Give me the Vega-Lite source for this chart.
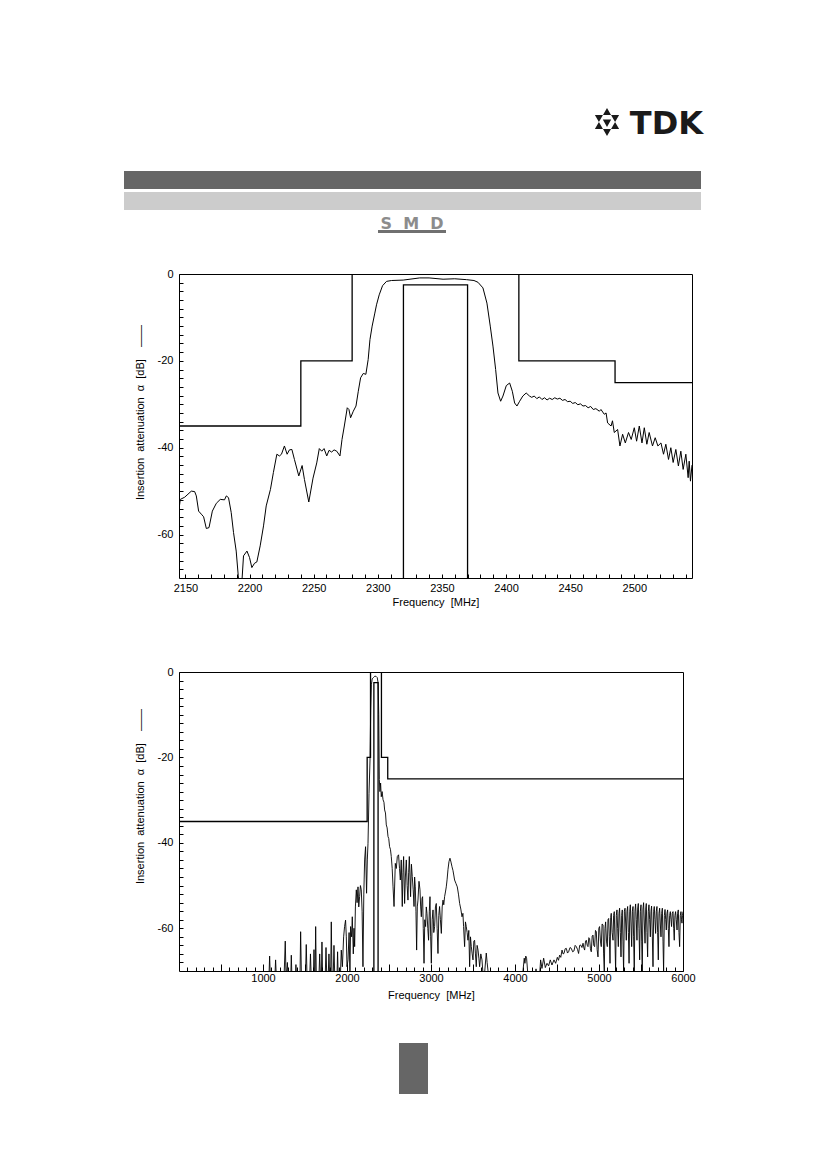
{
  "$schema": "https://vega.github.io/schema/vega-lite/v6.json",
  "background": "white",
  "padding": {"left": 124, "top": 100, "right": 5, "bottom": 5},
  "bounds": "flush",
  "spacing": 94,
  "datasets": {
    "mask": [
      {"seg": "L", "i": 0, "f": 0, "a": -35}, {"seg": "L", "i": 1, "f": 2240, "a": -35},
      {"seg": "L", "i": 2, "f": 2240, "a": -20}, {"seg": "L", "i": 3, "f": 2280, "a": -20},
      {"seg": "L", "i": 4, "f": 2280, "a": 0},
      {"seg": "P", "i": 0, "f": 2320, "a": -70}, {"seg": "P", "i": 1, "f": 2320, "a": -2.5},
      {"seg": "P", "i": 2, "f": 2370, "a": -2.5}, {"seg": "P", "i": 3, "f": 2370, "a": -70},
      {"seg": "R", "i": 0, "f": 2410, "a": 0}, {"seg": "R", "i": 1, "f": 2410, "a": -20},
      {"seg": "R", "i": 2, "f": 2485, "a": -20}, {"seg": "R", "i": 3, "f": 2485, "a": -25},
      {"seg": "R", "i": 4, "f": 6000, "a": -25}
    ],
    "narrow": [
      {"f": 2145, "a": -54.2}, {"f": 2146, "a": -51.9}, {"f": 2149.4, "a": -51.4}, {"f": 2152, "a": -50.7},
      {"f": 2154.6, "a": -50}, {"f": 2157.2, "a": -50.1}, {"f": 2158.5, "a": -51.1}, {"f": 2160.3, "a": -54.6},
      {"f": 2162.4, "a": -55.3}, {"f": 2164.2, "a": -55.9}, {"f": 2166.3, "a": -58.6}, {"f": 2168.4, "a": -58.4},
      {"f": 2171, "a": -54.6}, {"f": 2174.1, "a": -52.8}, {"f": 2177.2, "a": -51.9}, {"f": 2180.5, "a": -52},
      {"f": 2181.9, "a": -51.1}, {"f": 2183.6, "a": -51.5}, {"f": 2185.7, "a": -54.9}, {"f": 2187.5, "a": -59.5},
      {"f": 2189.6, "a": -63.8}, {"f": 2191.2, "a": -69.5}, {"f": 2192.2, "a": -73}, {"f": 2193.6, "a": -73},
      {"f": 2195.3, "a": -64.9}, {"f": 2198, "a": -63.8}, {"f": 2200, "a": -65.3}, {"f": 2201.8, "a": -67.6},
      {"f": 2203.9, "a": -66.6}, {"f": 2205.7, "a": -66.3}, {"f": 2208.3, "a": -62.6}, {"f": 2210.9, "a": -58},
      {"f": 2213, "a": -53.4}, {"f": 2216.3, "a": -49.6}, {"f": 2218.6, "a": -45.7}, {"f": 2221.3, "a": -41.5},
      {"f": 2223.3, "a": -41.9}, {"f": 2224.9, "a": -41.5}, {"f": 2227.2, "a": -39.6}, {"f": 2229.3, "a": -41.5},
      {"f": 2231.1, "a": -40.5}, {"f": 2233, "a": -40.4}, {"f": 2235, "a": -42.7}, {"f": 2238.4, "a": -46.5},
      {"f": 2241, "a": -44.1}, {"f": 2242.8, "a": -47.3}, {"f": 2246.2, "a": -52.5}, {"f": 2249.5, "a": -47},
      {"f": 2252.4, "a": -43.5}, {"f": 2254.4, "a": -40.2}, {"f": 2256.3, "a": -40.8}, {"f": 2258.1, "a": -40.2},
      {"f": 2260.2, "a": -41.9}, {"f": 2262, "a": -40.6}, {"f": 2264, "a": -41}, {"f": 2265.9, "a": -40.5},
      {"f": 2268, "a": -40.8}, {"f": 2270.5, "a": -41.9}, {"f": 2272.1, "a": -38.1}, {"f": 2273.9, "a": -35},
      {"f": 2276.2, "a": -30.8}, {"f": 2277.5, "a": -31.2}, {"f": 2278.8, "a": -33.1}, {"f": 2280.9, "a": -31.6},
      {"f": 2283, "a": -30.4}, {"f": 2284.8, "a": -27}, {"f": 2286.6, "a": -23.9}, {"f": 2288.7, "a": -22.9},
      {"f": 2290.7, "a": -23.1}, {"f": 2292.5, "a": -19.7}, {"f": 2293.9, "a": -15.1}, {"f": 2295.6, "a": -12},
      {"f": 2297.7, "a": -9}, {"f": 2299, "a": -7.1}, {"f": 2301.1, "a": -4.8}, {"f": 2303.7, "a": -2.7},
      {"f": 2306.8, "a": -1.7}, {"f": 2310.7, "a": -1.5}, {"f": 2319.8, "a": -1.4}, {"f": 2332.7, "a": -0.9},
      {"f": 2340, "a": -0.9}, {"f": 2350.9, "a": -1.2}, {"f": 2360, "a": -1.1}, {"f": 2369.1, "a": -1.3},
      {"f": 2375, "a": -1.5}, {"f": 2378.1, "a": -1.9}, {"f": 2382, "a": -3.2}, {"f": 2385.1, "a": -6.7},
      {"f": 2387.7, "a": -12}, {"f": 2389.8, "a": -16.6}, {"f": 2391.9, "a": -22}, {"f": 2393.7, "a": -27.4},
      {"f": 2395.8, "a": -29.3}, {"f": 2397.6, "a": -28.1}, {"f": 2400.2, "a": -25.7}, {"f": 2402.8, "a": -25.1},
      {"f": 2404.9, "a": -27}, {"f": 2406.7, "a": -29.7}, {"f": 2408.5, "a": -30.4}, {"f": 2410.6, "a": -29.3},
      {"f": 2413.1, "a": -28.1}, {"f": 2415.7, "a": -27.4}, {"f": 2418.3, "a": -28.1}, {"f": 2420, "a": -28.4},
      {"f": 2422, "a": -28.1}, {"f": 2424, "a": -28.7}, {"f": 2426, "a": -28.3}, {"f": 2428, "a": -28.9},
      {"f": 2430, "a": -28.5}, {"f": 2432, "a": -29}, {"f": 2434, "a": -28.6}, {"f": 2436, "a": -28.9},
      {"f": 2438, "a": -28.5}, {"f": 2440, "a": -28.8}, {"f": 2442, "a": -28.6}, {"f": 2444, "a": -29.1},
      {"f": 2446, "a": -28.9}, {"f": 2448, "a": -29.4}, {"f": 2450, "a": -29.3}, {"f": 2452, "a": -29.8},
      {"f": 2454, "a": -29.6}, {"f": 2456, "a": -30.1}, {"f": 2458, "a": -29.9}, {"f": 2460, "a": -30.4},
      {"f": 2462, "a": -30.3}, {"f": 2464, "a": -30.8}, {"f": 2466, "a": -30.5}, {"f": 2468, "a": -31.2},
      {"f": 2470, "a": -31}, {"f": 2472.8, "a": -31.6}, {"f": 2474, "a": -31.2}, {"f": 2476.6, "a": -32.3},
      {"f": 2478, "a": -32}, {"f": 2479.2, "a": -34.3}, {"f": 2481.9, "a": -35}, {"f": 2483, "a": -33.8},
      {"f": 2484.4, "a": -36.5}, {"f": 2487, "a": -35.8}, {"f": 2488.8, "a": -39.6}, {"f": 2490.9, "a": -36.9},
      {"f": 2493, "a": -38.9}, {"f": 2495.5, "a": -36.5}, {"f": 2497.6, "a": -38.1}, {"f": 2500, "a": -35.4},
      {"f": 2501.8, "a": -38.5}, {"f": 2503.9, "a": -35}, {"f": 2506, "a": -38.9}, {"f": 2507.8, "a": -35.4},
      {"f": 2509.8, "a": -39.2}, {"f": 2511.6, "a": -36.5}, {"f": 2514.2, "a": -39.6}, {"f": 2516.3, "a": -37.7},
      {"f": 2518.4, "a": -39.6}, {"f": 2520.8, "a": -38.9}, {"f": 2522.8, "a": -41.5}, {"f": 2524.6, "a": -39.2},
      {"f": 2526.7, "a": -42.7}, {"f": 2528.5, "a": -40}, {"f": 2530.3, "a": -43.4}, {"f": 2532.4, "a": -40.4},
      {"f": 2534.4, "a": -44.2}, {"f": 2536.3, "a": -40.8}, {"f": 2538.1, "a": -45}, {"f": 2540.2, "a": -41.5},
      {"f": 2542, "a": -46.9}, {"f": 2542.8, "a": -43.1}, {"f": 2543.8, "a": -47.7}, {"f": 2545, "a": -44}
    ],
    "wide": [
      {"f": 1000, "a": -72}, {"f": 1070, "a": -72}, {"f": 1079, "a": -66.5}, {"f": 1088, "a": -72},
      {"f": 1140, "a": -72}, {"f": 1150, "a": -67.4}, {"f": 1160, "a": -72}, {"f": 1250, "a": -72},
      {"f": 1265, "a": -63}, {"f": 1275, "a": -72}, {"f": 1290, "a": -68}, {"f": 1300, "a": -72},
      {"f": 1330, "a": -72}, {"f": 1337, "a": -66.3}, {"f": 1345, "a": -72}, {"f": 1385, "a": -72},
      {"f": 1392, "a": -68.5}, {"f": 1400, "a": -72}, {"f": 1440, "a": -72}, {"f": 1448, "a": -60.8},
      {"f": 1458, "a": -72}, {"f": 1505, "a": -72}, {"f": 1515, "a": -63.8}, {"f": 1525, "a": -72},
      {"f": 1555, "a": -72}, {"f": 1565, "a": -66}, {"f": 1575, "a": -72}, {"f": 1600, "a": -72},
      {"f": 1607, "a": -65}, {"f": 1614, "a": -72}, {"f": 1620, "a": -72}, {"f": 1627, "a": -59.6},
      {"f": 1635, "a": -72}, {"f": 1665, "a": -72}, {"f": 1675, "a": -66}, {"f": 1685, "a": -72},
      {"f": 1695, "a": -72}, {"f": 1702, "a": -63.2}, {"f": 1710, "a": -72}, {"f": 1740, "a": -72},
      {"f": 1750, "a": -64.5}, {"f": 1760, "a": -72}, {"f": 1775, "a": -72}, {"f": 1785, "a": -66},
      {"f": 1795, "a": -72}, {"f": 1805, "a": -72}, {"f": 1813, "a": -58.5}, {"f": 1822, "a": -72},
      {"f": 1835, "a": -72}, {"f": 1845, "a": -64}, {"f": 1855, "a": -72}, {"f": 1880, "a": -72},
      {"f": 1888, "a": -65.5}, {"f": 1896, "a": -72}, {"f": 1920, "a": -72}, {"f": 1932, "a": -65.1},
      {"f": 1945, "a": -69}, {"f": 1960, "a": -62}, {"f": 1971, "a": -59.6}, {"f": 1983, "a": -58.1},
      {"f": 1992, "a": -62}, {"f": 2000, "a": -69}, {"f": 2012, "a": -67.4}, {"f": 2025, "a": -61},
      {"f": 2035, "a": -71}, {"f": 2043, "a": -59.6}, {"f": 2055, "a": -62}, {"f": 2063, "a": -57.3},
      {"f": 2075, "a": -66}, {"f": 2083, "a": -60}, {"f": 2091, "a": -64.3}, {"f": 2100, "a": -55},
      {"f": 2111, "a": -51}, {"f": 2120, "a": -54}, {"f": 2131, "a": -50.3}, {"f": 2140, "a": -55},
      {"f": 2150, "a": -52.6}, {"f": 2160, "a": -50}, {"f": 2170, "a": -51}, {"f": 2180, "a": -56},
      {"f": 2190, "a": -69}, {"f": 2200, "a": -52}, {"f": 2210, "a": -44}, {"f": 2221, "a": -40.9},
      {"f": 2233, "a": -51.8}, {"f": 2242, "a": -44}, {"f": 2250, "a": -40.1}, {"f": 2262, "a": -28.4},
      {"f": 2274, "a": -20.6}, {"f": 2282, "a": -9}, {"f": 2290, "a": -3}, {"f": 2300, "a": -1.6},
      {"f": 2315, "a": -1.3}, {"f": 2330, "a": -1}, {"f": 2345, "a": -1}, {"f": 2360, "a": -1.3},
      {"f": 2370, "a": -2.5}, {"f": 2378, "a": -10}, {"f": 2385, "a": -25.2}, {"f": 2392, "a": -28},
      {"f": 2400, "a": -26}, {"f": 2408, "a": -29.2}, {"f": 2418, "a": -28}, {"f": 2429, "a": -29.9},
      {"f": 2440, "a": -30.5}, {"f": 2448, "a": -32.3}, {"f": 2458, "a": -33}, {"f": 2468, "a": -35.8},
      {"f": 2478, "a": -36.5}, {"f": 2488, "a": -38.5}, {"f": 2497, "a": -39}, {"f": 2507, "a": -40.9},
      {"f": 2517, "a": -41.5}, {"f": 2527, "a": -43.2}, {"f": 2538, "a": -46}, {"f": 2548, "a": -50.3},
      {"f": 2560, "a": -54.9}, {"f": 2575, "a": -44.8}, {"f": 2587, "a": -46}, {"f": 2599, "a": -43.2},
      {"f": 2614, "a": -42.8}, {"f": 2625, "a": -46}, {"f": 2635, "a": -48.7}, {"f": 2646, "a": -44},
      {"f": 2658, "a": -54.9}, {"f": 2666, "a": -47}, {"f": 2674, "a": -43.2}, {"f": 2686, "a": -54.2},
      {"f": 2695, "a": -48}, {"f": 2706, "a": -44}, {"f": 2716, "a": -50}, {"f": 2726, "a": -53.4},
      {"f": 2734, "a": -47}, {"f": 2742, "a": -43.2}, {"f": 2750, "a": -48}, {"f": 2757, "a": -52.6},
      {"f": 2767, "a": -45}, {"f": 2777, "a": -47.9}, {"f": 2788, "a": -51}, {"f": 2798, "a": -54.9},
      {"f": 2805, "a": -48}, {"f": 2813, "a": -50.3}, {"f": 2821, "a": -56}, {"f": 2829, "a": -65.1},
      {"f": 2837, "a": -55}, {"f": 2845, "a": -53.4}, {"f": 2857, "a": -49}, {"f": 2869, "a": -51},
      {"f": 2877, "a": -55}, {"f": 2885, "a": -57.3}, {"f": 2893, "a": -53}, {"f": 2900, "a": -52.6},
      {"f": 2908, "a": -60}, {"f": 2917, "a": -68.2}, {"f": 2926, "a": -58}, {"f": 2936, "a": -59.6},
      {"f": 2944, "a": -55}, {"f": 2952, "a": -56.5}, {"f": 2962, "a": -60}, {"f": 2971, "a": -62.8},
      {"f": 2980, "a": -56}, {"f": 2988, "a": -52.6}, {"f": 2996, "a": -62}, {"f": 3004, "a": -68.2},
      {"f": 3014, "a": -58}, {"f": 3024, "a": -55.7}, {"f": 3033, "a": -61}, {"f": 3043, "a": -59.6},
      {"f": 3053, "a": -55}, {"f": 3063, "a": -54.2}, {"f": 3073, "a": -60}, {"f": 3083, "a": -65.9},
      {"f": 3093, "a": -57}, {"f": 3102, "a": -54.9}, {"f": 3112, "a": -58}, {"f": 3123, "a": -61.2},
      {"f": 3133, "a": -55}, {"f": 3143, "a": -53.4}, {"f": 3152, "a": -54.5}, {"f": 3162, "a": -52.6},
      {"f": 3172, "a": -51.5}, {"f": 3182, "a": -50.3}, {"f": 3192, "a": -48.5}, {"f": 3202, "a": -46.3},
      {"f": 3214, "a": -44.4}, {"f": 3226, "a": -43.6}, {"f": 3238, "a": -44.5}, {"f": 3250, "a": -45.6},
      {"f": 3262, "a": -46.5}, {"f": 3281, "a": -48.7}, {"f": 3297, "a": -49.5}, {"f": 3313, "a": -50.3},
      {"f": 3327, "a": -52}, {"f": 3341, "a": -54.2}, {"f": 3355, "a": -55.5}, {"f": 3369, "a": -57.3},
      {"f": 3380, "a": -56.5}, {"f": 3388, "a": -59.6}, {"f": 3400, "a": -64.3}, {"f": 3410, "a": -58.5},
      {"f": 3420, "a": -59.6}, {"f": 3430, "a": -61}, {"f": 3440, "a": -62.8}, {"f": 3450, "a": -60.5},
      {"f": 3460, "a": -69}, {"f": 3470, "a": -62}, {"f": 3480, "a": -64.3}, {"f": 3490, "a": -66},
      {"f": 3500, "a": -67.4}, {"f": 3510, "a": -63}, {"f": 3519, "a": -62.8}, {"f": 3529, "a": -66},
      {"f": 3539, "a": -69}, {"f": 3549, "a": -64}, {"f": 3560, "a": -65.1}, {"f": 3570, "a": -67},
      {"f": 3579, "a": -69}, {"f": 3593, "a": -66}, {"f": 3607, "a": -67.4}, {"f": 3620, "a": -71},
      {"f": 3638, "a": -70.5}, {"f": 3658, "a": -65.8}, {"f": 3668, "a": -68}, {"f": 3678, "a": -69.8},
      {"f": 3690, "a": -72}, {"f": 4080, "a": -72}, {"f": 4095, "a": -70}, {"f": 4110, "a": -67},
      {"f": 4118, "a": -68.2}, {"f": 4128, "a": -66.5}, {"f": 4138, "a": -67}, {"f": 4150, "a": -70},
      {"f": 4160, "a": -72}, {"f": 4240, "a": -72}, {"f": 4250, "a": -69.5}, {"f": 4260, "a": -72},
      {"f": 4290, "a": -72}, {"f": 4305, "a": -67.4}, {"f": 4321, "a": -69.4}, {"f": 4341, "a": -67},
      {"f": 4361, "a": -69.2}, {"f": 4381, "a": -68.2}, {"f": 4400, "a": -68.8}, {"f": 4420, "a": -67.4},
      {"f": 4440, "a": -68.6}, {"f": 4464, "a": -67.4}, {"f": 4484, "a": -68.2}, {"f": 4504, "a": -66.8},
      {"f": 4518, "a": -67.5}, {"f": 4531, "a": -66.3}, {"f": 4545, "a": -66.8}, {"f": 4560, "a": -65.1},
      {"f": 4572, "a": -66}, {"f": 4583, "a": -65.9}, {"f": 4597, "a": -64.8}, {"f": 4611, "a": -64.7},
      {"f": 4625, "a": -65.8}, {"f": 4638, "a": -65.5}, {"f": 4655, "a": -64.5}, {"f": 4670, "a": -64.7},
      {"f": 4686, "a": -65.5}, {"f": 4702, "a": -65.3}, {"f": 4716, "a": -64}, {"f": 4730, "a": -64.3},
      {"f": 4745, "a": -65}, {"f": 4757, "a": -65.9}, {"f": 4770, "a": -64}, {"f": 4781, "a": -63.9},
      {"f": 4797, "a": -64.5}, {"f": 4810, "a": -63.5}, {"f": 4820, "a": -64.6}, {"f": 4829, "a": -65.1},
      {"f": 4840, "a": -63}, {"f": 4849, "a": -62.8}, {"f": 4860, "a": -64}, {"f": 4869, "a": -64.3},
      {"f": 4879, "a": -62.2}, {"f": 4888, "a": -62.4}, {"f": 4898, "a": -64.8}, {"f": 4908, "a": -65.5},
      {"f": 4919, "a": -61.8}, {"f": 4929, "a": -61.6}, {"f": 4938, "a": -64}, {"f": 4948, "a": -64.3},
      {"f": 4958, "a": -60.5}, {"f": 4968, "a": -60.8}, {"f": 4978, "a": -65}, {"f": 4988, "a": -66.7},
      {"f": 4998, "a": -60}, {"f": 5007, "a": -59.6}, {"f": 5017, "a": -63}, {"f": 5027, "a": -64.3},
      {"f": 5037, "a": -59}, {"f": 5048, "a": -59.2}, {"f": 5055, "a": -66}, {"f": 5063, "a": -70},
      {"f": 5071, "a": -60}, {"f": 5079, "a": -58.5}, {"f": 5089, "a": -63}, {"f": 5099, "a": -64.3},
      {"f": 5107, "a": -58}, {"f": 5115, "a": -57.7}, {"f": 5123, "a": -62}, {"f": 5131, "a": -68.2},
      {"f": 5139, "a": -57.5}, {"f": 5146, "a": -56.5}, {"f": 5156, "a": -61}, {"f": 5167, "a": -62.8},
      {"f": 5174, "a": -57}, {"f": 5182, "a": -56.1}, {"f": 5190, "a": -63}, {"f": 5198, "a": -70},
      {"f": 5206, "a": -57}, {"f": 5214, "a": -55.7}, {"f": 5222, "a": -60}, {"f": 5230, "a": -64.3},
      {"f": 5238, "a": -56.5}, {"f": 5245, "a": -55.3}, {"f": 5254, "a": -61}, {"f": 5262, "a": -66.7},
      {"f": 5270, "a": -57}, {"f": 5277, "a": -55.7}, {"f": 5285, "a": -63}, {"f": 5293, "a": -70},
      {"f": 5302, "a": -56}, {"f": 5310, "a": -55.3}, {"f": 5318, "a": -59}, {"f": 5325, "a": -62.8},
      {"f": 5333, "a": -56}, {"f": 5341, "a": -54.9}, {"f": 5350, "a": -61}, {"f": 5358, "a": -68.2},
      {"f": 5366, "a": -56}, {"f": 5373, "a": -54.5}, {"f": 5381, "a": -59}, {"f": 5389, "a": -64.3},
      {"f": 5397, "a": -56}, {"f": 5405, "a": -54.9}, {"f": 5412, "a": -62}, {"f": 5420, "a": -70},
      {"f": 5428, "a": -56}, {"f": 5436, "a": -54.3}, {"f": 5444, "a": -58}, {"f": 5452, "a": -62.8},
      {"f": 5460, "a": -55.5}, {"f": 5468, "a": -54.2}, {"f": 5476, "a": -60}, {"f": 5484, "a": -67.4},
      {"f": 5492, "a": -56}, {"f": 5500, "a": -54.5}, {"f": 5508, "a": -63}, {"f": 5515, "a": -70},
      {"f": 5523, "a": -55.5}, {"f": 5531, "a": -54}, {"f": 5540, "a": -59}, {"f": 5548, "a": -63.5},
      {"f": 5556, "a": -55.5}, {"f": 5563, "a": -54.2}, {"f": 5571, "a": -61}, {"f": 5579, "a": -66.7},
      {"f": 5587, "a": -56}, {"f": 5595, "a": -54.5}, {"f": 5603, "a": -58}, {"f": 5611, "a": -62},
      {"f": 5619, "a": -56}, {"f": 5626, "a": -54.8}, {"f": 5635, "a": -62}, {"f": 5643, "a": -69},
      {"f": 5651, "a": -56}, {"f": 5658, "a": -54.9}, {"f": 5666, "a": -58}, {"f": 5674, "a": -61.2},
      {"f": 5682, "a": -56}, {"f": 5690, "a": -54.9}, {"f": 5698, "a": -61}, {"f": 5706, "a": -67.4},
      {"f": 5714, "a": -56.5}, {"f": 5722, "a": -55.3}, {"f": 5730, "a": -59}, {"f": 5738, "a": -62},
      {"f": 5746, "a": -56.5}, {"f": 5754, "a": -55.3}, {"f": 5762, "a": -63}, {"f": 5769, "a": -70},
      {"f": 5778, "a": -57}, {"f": 5786, "a": -55.6}, {"f": 5794, "a": -58}, {"f": 5801, "a": -60.4},
      {"f": 5809, "a": -56.5}, {"f": 5817, "a": -55.7}, {"f": 5825, "a": -60}, {"f": 5833, "a": -64.3},
      {"f": 5841, "a": -57}, {"f": 5849, "a": -56.1}, {"f": 5857, "a": -58}, {"f": 5864, "a": -59.6},
      {"f": 5872, "a": -56.5}, {"f": 5881, "a": -56.1}, {"f": 5889, "a": -60}, {"f": 5896, "a": -62.8},
      {"f": 5904, "a": -57}, {"f": 5912, "a": -56.1}, {"f": 5920, "a": -58}, {"f": 5929, "a": -60.4},
      {"f": 5936, "a": -56.5}, {"f": 5944, "a": -55.7}, {"f": 5952, "a": -61}, {"f": 5960, "a": -64.3},
      {"f": 5968, "a": -57}, {"f": 5976, "a": -56.1}, {"f": 5982, "a": -58}, {"f": 5988, "a": -58.8},
      {"f": 5994, "a": -57}, {"f": 6000, "a": -56.1}
    ]
  },
  "vconcat": [
    {
      "width": 513,
      "height": 80,
      "view": {"stroke": null},
      "data": {"values": [{}]},
      "layer": [
        {
          "mark": {"type": "rect", "color": "#666666"},
          "encoding": {
            "x": {"datum": 124, "type": "quantitative", "scale": {"domain": [179, 692], "nice": false, "zero": false}, "axis": null},
            "x2": {"datum": 701},
            "y": {"datum": 171, "type": "quantitative", "scale": {"domain": [100, 180], "reverse": true, "nice": false, "zero": false}, "axis": null},
            "y2": {"datum": 189}
          }
        },
        {
          "mark": {"type": "rect", "color": "#cccccc"},
          "encoding": {
            "x": {"datum": 124, "type": "quantitative", "axis": null},
            "x2": {"datum": 701},
            "y": {"datum": 192, "type": "quantitative", "axis": null},
            "y2": {"datum": 210}
          }
        },
        {
          "mark": {"type": "rect", "color": "#707070"},
          "encoding": {
            "x": {"datum": 378, "type": "quantitative", "axis": null},
            "x2": {"datum": 446},
            "y": {"datum": 230, "type": "quantitative", "axis": null},
            "y2": {"datum": 233}
          }
        },
        {
          "mark": {"type": "text", "text": "S\u00a0\u00a0M\u00a0\u00a0D", "font": "DejaVu Sans", "fontWeight": "bold", "fontSize": 16, "color": "#8c8c8c", "align": "center", "baseline": "alphabetic"},
          "encoding": {
            "x": {"datum": 412, "type": "quantitative", "axis": null},
            "y": {"datum": 229, "type": "quantitative", "axis": null}
          }
        },
        {
          "mark": {"type": "text", "text": "TDK", "font": "DejaVu Sans", "fontWeight": "bold", "fontSize": 32, "color": "#1a1a1a", "align": "right", "baseline": "alphabetic"},
          "encoding": {
            "x": {"datum": 703, "type": "quantitative", "axis": null},
            "y": {"datum": 134, "type": "quantitative", "axis": null}
          }
        },
        {
          "mark": {"type": "point", "shape": "M0,-1L0.866,0.5L-0.866,0.5Z M0,1L0.866,-0.5L-0.866,-0.5Z M0,0.35L0.3,-0.17L-0.3,-0.17Z", "filled": true, "color": "#1a1a1a", "opacity": 1, "size": 784},
          "encoding": {
            "x": {"datum": 607, "type": "quantitative", "axis": null},
            "y": {"datum": 122, "type": "quantitative", "axis": null}
          }
        }
      ]
    },
    {
      "width": 513,
      "height": 304,
      "layer": [
        {
          "data": {"name": "narrow"},
          "mark": {"type": "line", "color": "black", "strokeWidth": 1, "clip": true},
          "encoding": {
            "x": {
              "field": "f", "type": "quantitative",
              "scale": {"domain": [2145, 2545], "nice": false, "zero": false},
              "axis": {
                "title": "Frequency\u00a0\u00a0[MHz]",
                "values": [2150, 2160, 2170, 2180, 2190, 2200, 2210, 2220, 2230, 2240, 2250, 2260, 2270, 2280, 2290, 2300, 2310, 2320, 2330, 2340, 2350, 2360, 2370, 2380, 2390, 2400, 2410, 2420, 2430, 2440, 2450, 2460, 2470, 2480, 2490, 2500, 2510, 2520, 2530, 2540],
                "tickCount": 200,
                "labelOverlap": false,
                "labelExpr": "datum.value % 50 === 0 ? '' + datum.value : ''",
                "labelPadding": 8,
                "titlePadding": 3
              }
            },
            "y": {
              "field": "a", "type": "quantitative",
              "scale": {"domain": [-70, 0], "nice": false, "zero": false},
              "axis": {
                "title": "Insertion\u00a0\u00a0attenuation\u00a0\u00a0\u03b1\u00a0\u00a0[dB]\u00a0\u00a0\u00a0\u00a0\u2014\u2014",
                "values": [-68, -66, -64, -62, -60, -58, -56, -54, -52, -50, -48, -46, -44, -42, -40, -38, -36, -34, -32, -30, -28, -26, -24, -22, -20, -18, -16, -14, -12, -10, -8, -6, -4, -2, 0],
                "tickCount": 200,
                "labelOverlap": false,
                "labelExpr": "datum.value % 20 === 0 ? '' + datum.value : ''",
                "labelPadding": 10,
                "titlePadding": 12,
                "titleY": 138
              }
            }
          }
        },
        {
          "data": {"name": "mask"},
          "mark": {"type": "line", "color": "black", "strokeWidth": 1.3, "clip": true},
          "encoding": {
            "x": {"field": "f", "type": "quantitative"},
            "y": {"field": "a", "type": "quantitative"},
            "detail": {"field": "seg", "type": "nominal"},
            "order": {"field": "i", "type": "quantitative"}
          }
        }
      ]
    },
    {
      "width": 504,
      "height": 299,
      "layer": [
        {
          "data": {"name": "wide"},
          "mark": {"type": "line", "color": "black", "strokeWidth": 0.9, "clip": true},
          "encoding": {
            "x": {
              "field": "f", "type": "quantitative",
              "scale": {"domain": [0, 6000], "nice": false, "zero": false},
              "axis": {
                "title": "Frequency\u00a0\u00a0[MHz]",
                "values": [100, 200, 300, 400, 500, 600, 700, 800, 900, 1000, 1100, 1200, 1300, 1400, 1500, 1600, 1700, 1800, 1900, 2000, 2100, 2200, 2300, 2400, 2500, 2600, 2700, 2800, 2900, 3000, 3100, 3200, 3300, 3400, 3500, 3600, 3700, 3800, 3900, 4000, 4100, 4200, 4300, 4400, 4500, 4600, 4700, 4800, 4900, 5000, 5100, 5200, 5300, 5400, 5500, 5600, 5700, 5800, 5900, 6000],
                "tickCount": 200,
                "labelOverlap": false,
                "labelExpr": "datum.value % 1000 === 0 ? '' + datum.value : ''",
                "tickSize": {"condition": {"test": "datum.value % 500 === 0", "value": -7}, "value": -4},
                "labelPadding": 8,
                "titlePadding": 3
              }
            },
            "y": {
              "field": "a", "type": "quantitative",
              "scale": {"domain": [-70, 0], "nice": false, "zero": false},
              "axis": {
                "title": "Insertion\u00a0\u00a0attenuation\u00a0\u00a0\u03b1\u00a0\u00a0[dB]\u00a0\u00a0\u00a0\u00a0\u2014\u2014",
                "values": [-68, -66, -64, -62, -60, -58, -56, -54, -52, -50, -48, -46, -44, -42, -40, -38, -36, -34, -32, -30, -28, -26, -24, -22, -20, -18, -16, -14, -12, -10, -8, -6, -4, -2, 0],
                "tickCount": 200,
                "labelOverlap": false,
                "labelExpr": "datum.value % 20 === 0 ? '' + datum.value : ''",
                "labelPadding": 10,
                "titlePadding": 12,
                "titleY": 124
              }
            }
          }
        },
        {
          "data": {"name": "mask"},
          "mark": {"type": "line", "color": "black", "strokeWidth": 1.3, "clip": true},
          "encoding": {
            "x": {"field": "f", "type": "quantitative"},
            "y": {"field": "a", "type": "quantitative"},
            "detail": {"field": "seg", "type": "nominal"},
            "order": {"field": "i", "type": "quantitative"}
          }
        }
      ]
    },
    {
      "width": 513,
      "height": 35,
      "view": {"stroke": null},
      "data": {"values": [{}]},
      "mark": {"type": "rect", "color": "#666666"},
      "encoding": {
        "x": {"datum": 399, "type": "quantitative", "scale": {"domain": [179, 692], "nice": false, "zero": false}, "axis": null},
        "x2": {"datum": 428},
        "y": {"datum": 1043, "type": "quantitative", "scale": {"domain": [1065, 1100], "reverse": true, "nice": false, "zero": false}, "axis": null},
        "y2": {"datum": 1094}
      }
    }
  ],
  "config": {
    "font": "Liberation Sans",
    "view": {"stroke": "black", "strokeWidth": 1},
    "axis": {
      "domain": false,
      "grid": false,
      "tickColor": "black",
      "tickWidth": 1,
      "tickSize": -4,
      "labelFont": "Liberation Sans",
      "labelFontSize": 11,
      "labelColor": "black",
      "labelOverlap": false,
      "labelFlush": false,
      "titleFont": "Liberation Sans",
      "titleFontSize": 11,
      "titleFontWeight": "normal",
      "titleColor": "black"
    }
  }
}
